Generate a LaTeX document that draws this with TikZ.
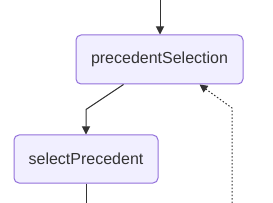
\documentclass[tikz,border=0pt]{standalone}
\usepackage{fontspec}
\setmainfont{Liberation Sans}
\usetikzlibrary{arrows.meta,positioning}
\definecolor{boxfill}{HTML}{F1EFFF}
\definecolor{boxline}{HTML}{9370DB}
\definecolor{edgeline}{HTML}{333333}

\begin{document}
\begin{tikzpicture}[x=1pt,y=-1pt,
  statebox/.style={draw=boxline, fill=boxfill, rounded corners=5pt, line width=1pt,
    text=edgeline, font=\fontsize{16}{19}\selectfont, inner sep=0pt},
  flow/.style={draw=edgeline, line width=1pt, -{Triangle[length=8pt,width=8pt]}},
  back/.style={flow, dash pattern=on 1.5pt off 2pt}]
\useasboundingbox (0,0) rectangle (273,203);
% states
\node[statebox, minimum width=167pt, minimum height=49pt] (precSel) at (159.5,59.5) {precedentSelection};
\node[statebox, minimum width=144pt, minimum height=48pt] (selPrec) at (86,159) {selectPrecedent};
% loose ends
\coordinate (inTop) at (160,0);
\coordinate (outBot) at (86,203);
\coordinate (loopBot) at (232,203);
% edges
\draw[flow] (inTop) -- (inTop |- precSel.north);
\draw[flow] ([xshift=-36pt]precSel.south) -- ([yshift=25pt]selPrec.north) -- (selPrec.north);
\draw[draw=edgeline, line width=1pt] (selPrec.south) -- (outBot);
\draw[back] (loopBot) -- (232,108) -- ([xshift=40pt]precSel.south);
\end{tikzpicture}
\end{document}
